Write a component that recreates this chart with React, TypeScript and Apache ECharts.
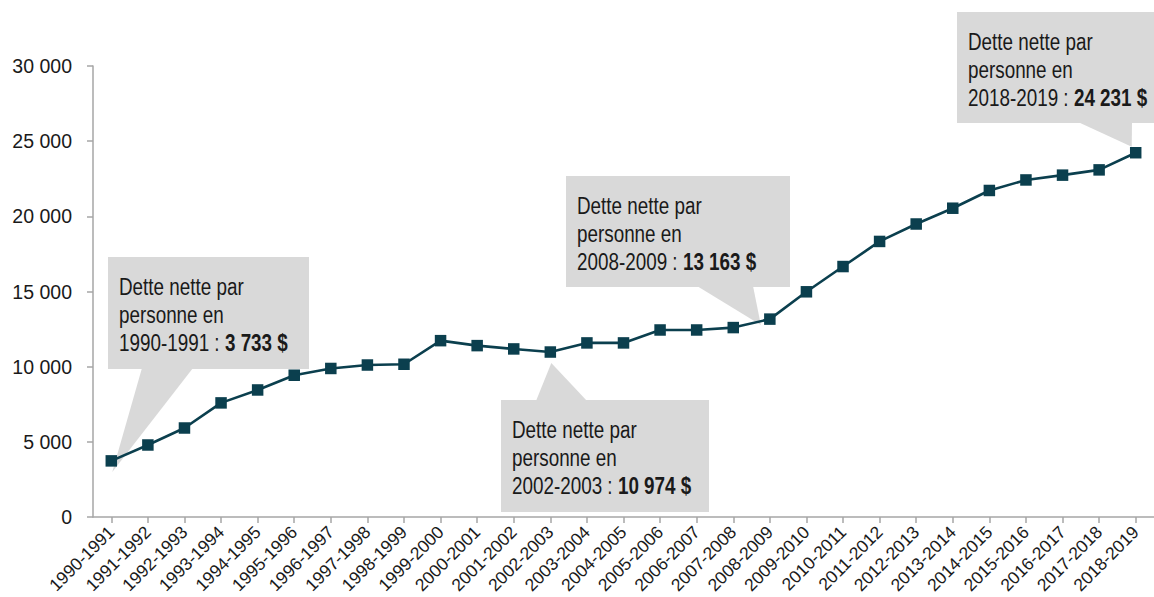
import React, { useEffect, useRef } from "react";
import * as echarts from "echarts";

const categories = [
  "1990-1991", "1991-1992", "1992-1993", "1993-1994", "1994-1995", "1995-1996",
  "1996-1997", "1997-1998", "1998-1999", "1999-2000", "2000-2001", "2001-2002",
  "2002-2003", "2003-2004", "2004-2005", "2005-2006", "2006-2007", "2007-2008",
  "2008-2009", "2009-2010", "2010-2011", "2011-2012", "2012-2013", "2013-2014",
  "2014-2015", "2015-2016", "2016-2017", "2017-2018", "2018-2019",
];

const debtPerPerson = [
  3733, 4790, 5920, 7590, 8450, 9430, 9880, 10110, 10160, 11730, 11400, 11180,
  10974, 11580, 11580, 12440, 12440, 12600, 13163, 14980, 16660, 18330, 19490,
  20540, 21720, 22420, 22740, 23090, 24231,
];

const yTicks = { min: 0, max: 30000, interval: 5000 };

const calloutIndices = [0, 12, 18, 28];
const calloutValueLabels = ["3 733 $", "10 974 $", "13 163 $", "24 231 $"];

const FONT = "'Liberation Sans', Arial, sans-serif";
const LINE_COLOR = "#0b3f4e";
const BOX_COLOR = "#d9d9d9";
const TEXT_COLOR = "#1a1a1a";

// layout of callout boxes: [x, y, w, h], pointer base x-range, side, tip offset from point
const calloutLayout = [
  { box: [108, 257, 201, 112], base: [142, 193], side: "bottom", off: [1, 11] },
  { box: [501, 400, 208, 112], base: [536, 587], side: "top", off: [1, 11] },
  { box: [566, 176, 224, 111], base: [697, 753], side: "bottom", off: [-9, 6] },
  { box: [957, 12, 197, 111], base: [1078, 1132], side: "bottom", off: [-4, -6] },
];

const fmt = (v: number) => String(v).replace(/\B(?=(\d{3})+(?!\d))/g, " ");

export default function App() {
  const ref = useRef<HTMLDivElement>(null);
  useEffect(() => {
    if (!ref.current) return;
    const chart = echarts.init(ref.current, undefined, { renderer: "svg" });
    chart.setOption({
      animation: false,
      backgroundColor: "#ffffff",
      textStyle: { fontFamily: FONT },
      grid: { left: 93, right: 0, top: 66, bottom: 80, containLabel: false, outerBoundsMode: "none" },
      xAxis: {
        type: "category",
        data: categories,
        boundaryGap: true,
        axisLine: { show: true, lineStyle: { color: "#a6a6a6", width: 1.5 } },
        axisTick: { show: true, alignWithLabel: true, length: 6, lineStyle: { color: "#a6a6a6", width: 1.5 } },
        axisLabel: {
          interval: 0,
          rotate: 45,
          margin: 12,
          fontSize: 17.5,
          color: TEXT_COLOR,
          fontFamily: FONT,
        },
        splitLine: { show: false },
      },
      yAxis: {
        type: "value",
        min: yTicks.min,
        max: yTicks.max,
        interval: yTicks.interval,
        axisLine: { show: true, lineStyle: { color: "#a6a6a6", width: 1.5 } },
        axisTick: { show: true, length: 6, lineStyle: { color: "#a6a6a6", width: 1.5 } },
        axisLabel: {
          margin: 21,
          fontSize: 19.5,
          color: TEXT_COLOR,
          fontFamily: FONT,
          formatter: (v: number) => fmt(v),
        },
        splitLine: { show: false },
      },
      series: [
        {
          type: "line",
          data: debtPerPerson,
          z: 5,
          symbol: "rect",
          symbolSize: 11.5,
          lineStyle: { color: LINE_COLOR, width: 2.6 },
          itemStyle: { color: LINE_COLOR },
        },
      ],
    });

    const graphics: any[] = [];
    calloutIndices.forEach((idx, i) => {
      const L = calloutLayout[i];
      const p = chart.convertToPixel({ xAxisIndex: 0, yAxisIndex: 0 }, [idx, debtPerPerson[idx]]) as number[];
      const [bx, by, bw, bh] = L.box;
      const tip = [p[0] + L.off[0], p[1] + L.off[1]];
      const baseY = L.side === "bottom" ? by + bh - 1 : by + 1;
      graphics.push({
        type: "polygon",
        z: 1,
        shape: { points: [[L.base[0], baseY], [L.base[1], baseY], tip] },
        style: { fill: BOX_COLOR },
      });
      graphics.push({
        type: "rect",
        z: 1,
        shape: { x: bx, y: by, width: bw, height: bh },
        style: { fill: BOX_COLOR },
      });
      graphics.push({
        type: "text",
        z: 2,
        x: bx + 11,
        y: by + 16,
        scaleX: 0.82,
        style: {
          text: `Dette nette par\npersonne en\n${categories[idx]} : {b|${calloutValueLabels[i]}}`,
          fontFamily: FONT,
          fontSize: 23,
          lineHeight: 28,
          fill: TEXT_COLOR,
          rich: {
            b: { fontWeight: "bold", fontFamily: FONT, fontSize: 23, lineHeight: 28, fill: TEXT_COLOR },
          },
        },
      });
    });
    chart.setOption({ graphic: graphics });

    return () => chart.dispose();
  }, []);
  return (
    <div
      ref={ref}
      style={{ position: "fixed", left: 0, top: 0, width: 1154, height: 597 }}
    />
  );
}
